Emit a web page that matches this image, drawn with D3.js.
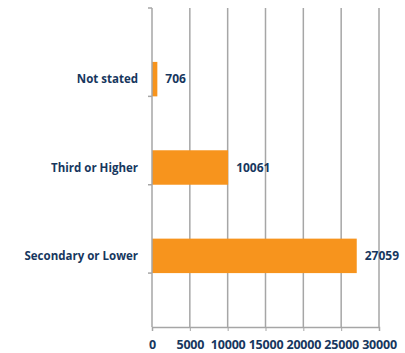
<!DOCTYPE html>
<html>
<head>
<meta charset="utf-8">
<script src="https://d3js.org/d3.v7.min.js"></script>
<style>
  body { margin: 0; background: #fff; }
  .axis text { font-family: "Open Sans", sans-serif; font-weight: bold; font-size: 11.5px; fill: #17375E; }
  .axis path, .axis line { stroke: #a6a6a6; }
  .xaxis text { font-size: 12.5px; letter-spacing: -0.2px; }
</style>
</head>
<body>
<div id="chart"></div>
<script>
var categories = ["Not stated", "Third or Higher", "Secondary or Lower"];
var values = [706, 10061, 27059];
var xTicks = [0, 5000, 10000, 15000, 20000, 25000, 30000];

var margin = {top: 8, right: 26, bottom: 26, left: 152},
    width = 405 - margin.left - margin.right,
    height = 353 - margin.top - margin.bottom;

var svg = d3.select("#chart")
    .append("svg")
      .attr("width", 405)
      .attr("height", 353)
    .append("g")
      .attr("transform", "translate(" + margin.left + "," + margin.top + ")");

var x = d3.scaleLinear().domain([0, 30000]).range([0, width]);
var y = d3.scaleBand().domain(categories).range([0, height]).padding(0.61);

// gridlines
svg.append("g")
    .selectAll("line")
    .data(xTicks.slice(1))
    .enter().append("line")
      .attr("x1", function(d) { return x(d); })
      .attr("x2", function(d) { return x(d); })
      .attr("y1", 0)
      .attr("y2", height)
      .attr("stroke", "#a6a6a6")
      .attr("stroke-width", 1.5);

svg.selectAll(".bar")
    .data(values)
    .enter().append("rect")
      .attr("class", "bar")
      .attr("x", x(0))
      .attr("y", function(d, i) { return y(categories[i]); })
      .attr("width", function(d) { return x(d) - x(0); })
      .attr("height", y.bandwidth())
      .attr("fill", "#F7941D");

svg.selectAll(".val")
    .data(values)
    .enter().append("text")
      .attr("class", "val")
      .attr("x", function(d) { return x(d) + 8; })
      .attr("y", function(d, i) { return y(categories[i]) + y.bandwidth() / 2; })
      .attr("dy", "0.35em")
      .attr("font-family", "Open Sans, sans-serif")
      .attr("font-weight", "bold")
      .attr("font-size", "12px")
      .attr("fill", "#17375E")
      .text(function(d) { return d; });

// x axis
svg.append("g")
    .attr("class", "axis xaxis")
    .attr("transform", "translate(0," + height + ")")
    .call(d3.axisBottom(x).tickValues(xTicks).tickFormat(d3.format("d")).tickSizeOuter(0).tickSize(4).tickPadding(9))
    .call(function(g) { g.select(".domain").attr("stroke-width", 1.5); });

// y axis: category ticks on band boundaries
var yAxis = svg.append("g").attr("class", "axis");
yAxis.append("line")
    .attr("x1", 0).attr("x2", 0).attr("y1", 0).attr("y2", height)
    .attr("stroke", "#a6a6a6").attr("stroke-width", 1.5);
yAxis.selectAll(".tk")
    .data(d3.range(categories.length + 1))
    .enter().append("line")
      .attr("class", "tk")
      .attr("x1", -4).attr("x2", 0)
      .attr("y1", function(i) { return i * y.step(); })
      .attr("y2", function(i) { return i * y.step(); })
      .attr("stroke", "#a6a6a6").attr("stroke-width", 1.5);
yAxis.selectAll(".lbl")
    .data(categories)
    .enter().append("text")
      .attr("class", "lbl")
      .attr("x", -14)
      .attr("y", function(d) { return y(d) + y.bandwidth() / 2; })
      .attr("dy", "0.35em")
      .attr("text-anchor", "end")
      .text(function(d) { return d; });
</script>
</body>
</html>
